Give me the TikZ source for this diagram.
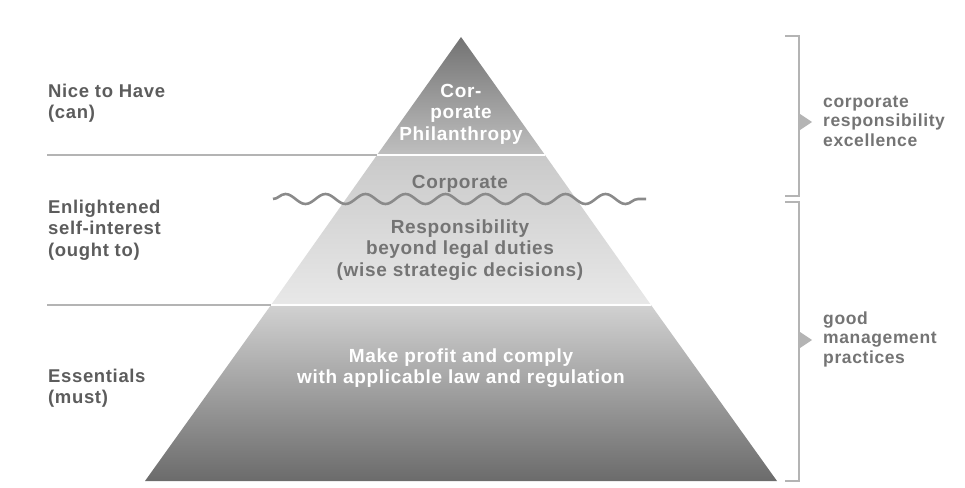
\documentclass[tikz,border=0pt]{standalone}
\usepackage{fontspec}
\setmainfont[LetterSpace=3.5]{Liberation Sans}
\usetikzlibrary{decorations.pathmorphing}

\definecolor{labelgray}{HTML}{5C5C5C}
\definecolor{midtext}{HTML}{747474}
\definecolor{rulegray}{HTML}{B4B4B4}
\definecolor{wavegray}{HTML}{8A8A8A}

\begin{document}
\begin{tikzpicture}[x=1pt, y=-1pt,
        layertext/.style={font=\bfseries\fontsize{19}{21.5}\selectfont, align=center, inner sep=0pt},
        sidetext/.style={font=\bfseries\fontsize{18.5}{21.5}\selectfont, align=left, anchor=west, inner sep=0pt, text=labelgray},
        righttext/.style={font=\bfseries\fontsize{17.5}{19.5}\selectfont, align=left, anchor=west, inner sep=0pt, text=midtext},
        rule/.style={draw=rulegray, line width=2pt},
        bracket/.style={draw=rulegray, line width=1.8pt},
        pointer/.style={fill=rulegray}]
        \useasboundingbox (0,0) rectangle (965,487);

        % pyramid corners
        \coordinate (apex) at (461,37);
        \coordinate (tl) at (377,155);
        \coordinate (tr) at (545,155);
        \coordinate (ml) at (271,305);
        \coordinate (mr) at (651,305);
        \coordinate (bl) at (145,481);
        \coordinate (br) at (777,481);

        % fill in layers
        \shade[top color=black!55, bottom color=black!25] (apex) -- (tr) -- (tl) -- cycle;
        \shade[top color=black!21, bottom color=black!9] (tl) -- (tr) -- (mr) -- (ml) -- cycle;
        \shade[top color=black!18, bottom color=black!58] (ml) -- (mr) -- (br) -- (bl) -- cycle;

        % white gaps between layers
        \draw[white, line width=2.5pt] (tl) -- (tr);
        \draw[white, line width=2.5pt] (ml) -- (mr);

        % divider lines on the left
        \coordinate (d1) at (47,155);
        \coordinate (d2) at (47,305);
        \draw[rule] (d1) -- (tl);
        \draw[rule] (d2) -- (ml);

        % wave
        \coordinate (w1) at (273,199);
        \coordinate (w2) at (646,199);
        \draw[wavegray, line width=2.6pt, decorate, decoration={snake, segment length=40pt, amplitude=5pt}] (w1) -- (w2);

        % layer texts
        \node[layertext, text=white] (philanthropy) at (461,114) {Cor-\\porate\\Philanthropy};
        \node[layertext, text=midtext] (corporate) at (460,184) {Corporate};
        \node[layertext, text=midtext] (beyond) at (460,250) {Responsibility\\beyond legal duties\\(wise strategic decisions)};
        \node[layertext, text=white] (profit) at (461,368) {Make profit and comply\\with applicable law and regulation};

        % labels on the left
        \node[sidetext] (nice) at (48,103) {Nice to Have\\(can)};
        \node[sidetext] (ought) at (48,230) {Enlightened\\self-interest\\(ought to)};
        \node[sidetext] (must) at (48,388) {Essentials\\(must)};

        % brackets on the right
        \coordinate (b1a) at (785,36);
        \coordinate (b1b) at (799,36);
        \coordinate (b1c) at (799,196);
        \coordinate (b1d) at (785,196);
        \draw[bracket] (b1a) -- (b1b) -- (b1c) -- (b1d);
        \coordinate (b2a) at (785,202);
        \coordinate (b2b) at (799,202);
        \coordinate (b2c) at (799,481);
        \coordinate (b2d) at (785,481);
        \draw[bracket] (b2a) -- (b2b) -- (b2c) -- (b2d);
        \fill[pointer] (800,114) -- (812,122) -- (800,130) -- cycle;
        \fill[pointer] (800,332) -- (812,340) -- (800,348) -- cycle;

        % labels on the right
        \node[righttext] (excellence) at (823,121) {corporate\\responsibility\\excellence};
        \node[righttext] (practices) at (823,339) {good\\management\\practices};
    \end{tikzpicture}
\end{document}
